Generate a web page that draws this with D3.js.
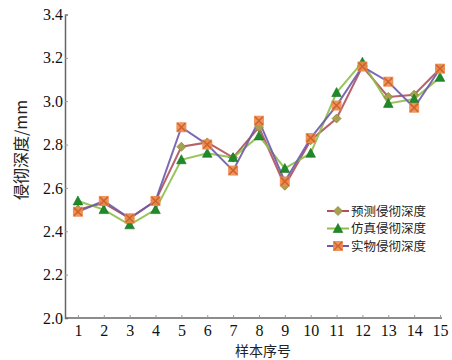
<!DOCTYPE html>
<html>
<head>
	<meta charset="utf-8">
	<title>侵彻深度</title>
	<script src="https://d3js.org/d3.v7.min.js"></script>
	<style>
		body { margin: 0; background: #fff; }
		.tick text { font-family: 'Liberation Serif', 'Times New Roman', serif; font-size: 16px; fill: #111; }
		.cjk { font-family: 'Noto Sans CJK SC', sans-serif; fill: #222; }
	</style>
</head>
<body>
<script>
	// sample index and the three series (mm)
	var samples = [1, 2, 3, 4, 5, 6, 7, 8, 9, 10, 11, 12, 13, 14, 15];
	var predicted = [2.50, 2.53, 2.46, 2.54, 2.79, 2.81, 2.74, 2.88, 2.61, 2.82, 2.92, 3.16, 3.02, 3.03, 3.15];
	var simulated = [2.54, 2.50, 2.43, 2.50, 2.73, 2.76, 2.74, 2.84, 2.69, 2.76, 3.04, 3.18, 2.99, 3.01, 3.11];
	var actual = [2.49, 2.54, 2.46, 2.54, 2.88, 2.80, 2.68, 2.91, 2.63, 2.83, 2.98, 3.16, 3.09, 2.97, 3.15];
	var yTicks = [2.0, 2.2, 2.4, 2.6, 2.8, 3.0, 3.2, 3.4];
	var names = ["预测侵彻深度", "仿真侵彻深度", "实物侵彻深度"];

	var W = 452, H = 360;
	var svg = d3.select("body").append("svg")
		.attr("width", W).attr("height", H);

	var x = d3.scaleLinear().domain([0.5, 15]).range([65, 440]);
	var y = d3.scaleLinear().domain([2.0, 3.4]).range([318, 14.5]);

	var series = [
		{name: names[0], values: predicted, line: "#b0505a", marker: "diamond", fill: "#a8a050", stroke: "#8a8a3a"},
		{name: names[1], values: simulated, line: "#8cbf4a", marker: "triangle", fill: "#1f8a2a", stroke: "#186e20"},
		{name: names[2], values: actual, line: "#6e5aa8", marker: "cross", fill: "#ec8a4c", stroke: "#d0602a"}
	];

	// axes
	var yAxis = d3.axisLeft(y).tickValues(yTicks).tickFormat(d3.format(".1f")).tickSize(-3).tickPadding(2);
	var gy = svg.append("g").attr("transform", "translate(65,0)").call(yAxis);
	gy.select(".domain").attr("stroke", "#666").attr("stroke-width", 1.5);
	gy.selectAll(".tick line").attr("stroke", "#999");

	var xAxis = d3.axisBottom(x).tickValues(samples).tickFormat(d3.format("d")).tickSize(-3).tickPadding(4);
	var gx = svg.append("g").attr("transform", "translate(0,318)").call(xAxis);
	gx.select(".domain").attr("d", "M65,0H442").attr("stroke", "#666").attr("stroke-width", 1.5);
	gx.selectAll(".tick line").attr("stroke", "#999");
	gx.selectAll(".tick text").attr("dy", "0.9em");

	// titles
	svg.append("text").attr("class", "cjk")
		.attr("transform", "translate(27,150) rotate(-90)")
		.attr("text-anchor", "middle").attr("font-size", 16)
		.text("侵彻深度/mm");
	svg.append("text").attr("class", "cjk")
		.attr("x", 263).attr("y", 355.5)
		.attr("text-anchor", "middle").attr("font-size", 14)
		.text("样本序号");

	function drawMarker(g, type, s) {
		if (type === "diamond") {
			g.append("path").attr("d", "M0,-4.5L4.5,0L0,4.5L-4.5,0Z")
				.attr("fill", s.fill).attr("stroke", s.stroke).attr("stroke-width", 0.8);
		} else if (type === "triangle") {
			g.append("path").attr("d", "M0,-5L4.8,4L-4.8,4Z")
				.attr("fill", s.fill).attr("stroke", s.stroke).attr("stroke-width", 0.6);
		} else {
			g.append("rect").attr("x", -5).attr("y", -5).attr("width", 10).attr("height", 10)
				.attr("fill", s.fill).attr("opacity", 0.9);
			g.append("path").attr("d", "M-4,-4L4,4M-4,4L4,-4")
				.attr("stroke", s.stroke).attr("stroke-width", 1.4);
		}
	}

	var line = d3.line()
		.x(function(d, i) { return x(samples[i]); })
		.y(function(d) { return y(d); });

	series.forEach(function(s) {
		svg.append("path").datum(s.values)
			.attr("d", line).attr("fill", "none")
			.attr("stroke", s.line).attr("stroke-width", 2).attr("opacity", 0.9);
	});
	series.forEach(function(s) {
		s.values.forEach(function(v, i) {
			var g = svg.append("g").attr("transform", "translate(" + x(samples[i]) + "," + y(v) + ")");
			drawMarker(g, s.marker, s);
		});
	});

	// legend
	var leg = svg.append("g").attr("transform", "translate(327,211)");
	series.forEach(function(s, i) {
		var row = leg.append("g").attr("transform", "translate(0," + (i * 17.5) + ")");
		row.append("line").attr("x1", 0).attr("x2", 22).attr("y1", 0).attr("y2", 0)
			.attr("stroke", s.line).attr("stroke-width", 2);
		drawMarker(row.append("g").attr("transform", "translate(11,0)"), s.marker, s);
		row.append("text").attr("class", "cjk")
			.attr("x", 24).attr("y", 0).attr("dy", "0.36em")
			.attr("font-size", 12.5).text(s.name);
	});
</script>
</body>
</html>
